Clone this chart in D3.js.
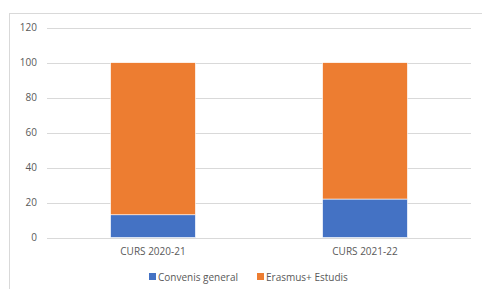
<!DOCTYPE html>
<html lang="ca">
<head>
  <meta charset="UTF-8">
  <title>Cursos</title>
  <script src="https://d3js.org/d3.v7.min.js"></script>
  <style>
    body { margin: 0; background: #fff; }
    text { font-family: "Open Sans", sans-serif; fill: #595959; }
    .axis text { font-size: 10px; }
    .axis path, .axis line { display: none; }
    .grid line { stroke: #d9d9d9; stroke-width: 1; shape-rendering: crispEdges; }
  </style>
</head>
<body>
<svg id="chart" width="482" height="289"></svg>
<script>
  // data
  const cursos = ["CURS 2020-21", "CURS 2021-22"];
  const series = ["Convenis general", "Erasmus+ Estudis"];
  const convenis = [13, 22];
  const erasmus = [87, 78];
  const yTicks = [0, 20, 40, 60, 80, 100, 120];
  const colors = ["#4472c4", "#ed7d31"];

  const svg = d3.select("#chart");

  // chart frame
  svg.append("rect")
     .attr("x", 9.5).attr("y", 13.5)
     .attr("width", 490).attr("height", 300)
     .attr("fill", "none")
     .attr("stroke", "#d9d9d9");

  const plotLeft = 47, plotRight = 471, plotTop = 27.7, plotBottom = 237.5;

  const x = d3.scaleBand()
     .domain(cursos)
     .range([plotLeft, plotRight])
     .paddingInner(0.6)
     .paddingOuter(0.3);

  const y = d3.scaleLinear()
     .domain([0, 120])
     .range([plotBottom, plotTop]);

  // gridlines
  svg.append("g").attr("class", "grid")
     .selectAll("line")
     .data(yTicks)
     .enter().append("line")
     .attr("x1", plotLeft).attr("x2", plotRight)
     .attr("y1", d => Math.round(y(d)) + 0.5)
     .attr("y2", d => Math.round(y(d)) + 0.5);

  // y axis labels
  svg.append("g").attr("class", "axis")
     .attr("transform", "translate(" + (plotLeft - 10) + ",0)")
     .call(d3.axisLeft(y).tickValues(yTicks).tickSize(0).tickPadding(0));

  // stacked bars
  const rows = cursos.map((c, i) => ({curs: c, convenis: convenis[i], erasmus: erasmus[i]}));
  const stack = d3.stack().keys(["convenis", "erasmus"])(rows);

  svg.append("g")
     .selectAll("g")
     .data(stack)
     .enter().append("g")
     .attr("fill", (d, i) => colors[i])
     .selectAll("rect")
     .data(d => d)
     .enter().append("rect")
     .attr("x", d => x(d.data.curs))
     .attr("y", d => y(d[1]))
     .attr("width", x.bandwidth())
     .attr("height", d => y(d[0]) - y(d[1]))
     .attr("stroke", "#fff")
     .attr("stroke-width", 0.6);

  // x axis labels
  svg.append("g").attr("class", "axis")
     .attr("transform", "translate(0," + (plotBottom + 10) + ")")
     .call(d3.axisBottom(x).tickSize(0).tickPadding(0))
     .selectAll("text").attr("dy", "0.71em");

  // legend
  const legend = svg.append("g")
     .attr("transform", "translate(149,273)");
  const lx = [0, 108];
  series.forEach((s, i) => {
    legend.append("rect")
       .attr("x", lx[i]).attr("y", 0)
       .attr("width", 7).attr("height", 7)
       .attr("fill", colors[i]);
    legend.append("text")
       .attr("x", lx[i] + 9).attr("y", 7.5)
       .style("font-size", "10px")
       .text(s);
  });
</script>
</body>
</html>
